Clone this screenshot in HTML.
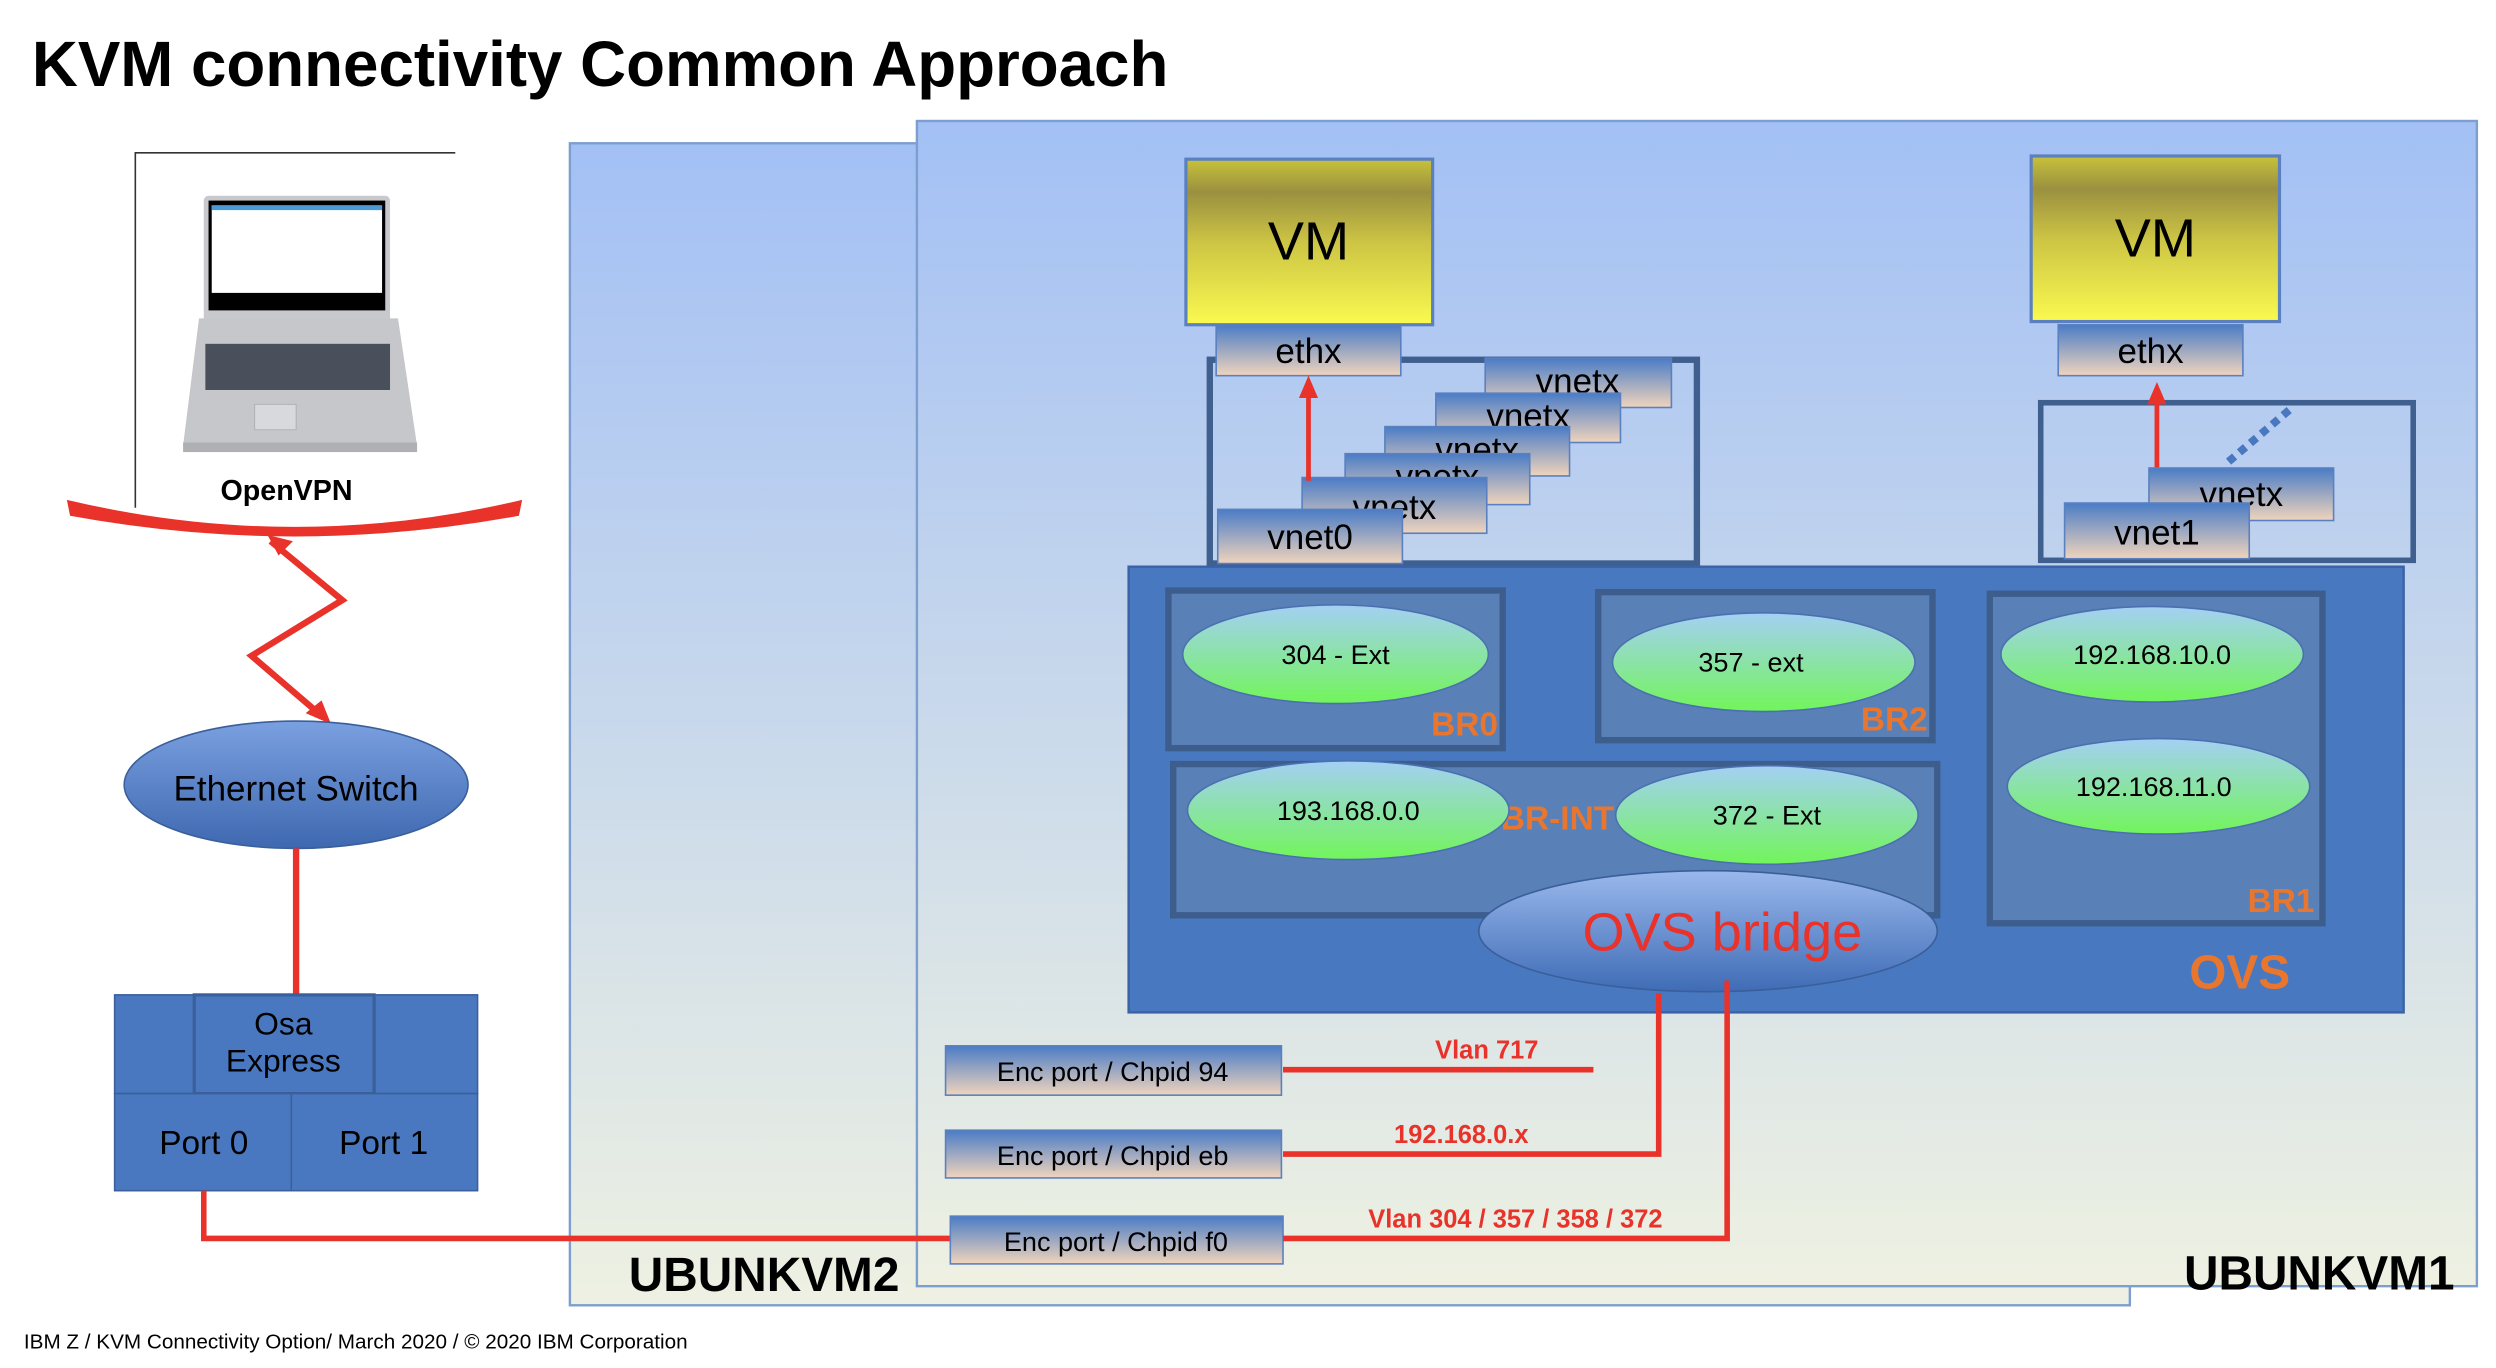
<!DOCTYPE html>
<html><head><meta charset="utf-8"><style>
html,body{margin:0;padding:0;background:#fff;}
svg{display:block;}
text{font-family:"Liberation Sans Narrow","Liberation Sans",sans-serif;}
.b{font-family:"Liberation Sans",sans-serif;font-weight:bold;}
</style></head><body>
<svg width="2496" height="1368" viewBox="0 0 1568 859.4" xmlns="http://www.w3.org/2000/svg">
<defs>
<linearGradient id="bg" x1="0" y1="0" x2="0" y2="1"><stop offset="0" stop-color="#a3c0f5"/><stop offset="1" stop-color="#eef1e2"/></linearGradient>
<linearGradient id="vm" x1="0" y1="0" x2="0" y2="1"><stop offset="0" stop-color="#c8c23a"/><stop offset="0.2" stop-color="#9a9040"/><stop offset="0.5" stop-color="#ccc444"/><stop offset="1" stop-color="#fafa50"/></linearGradient>
<linearGradient id="port" x1="0" y1="0" x2="0" y2="1"><stop offset="0" stop-color="#4a7cc6"/><stop offset="1" stop-color="#f0d4bc"/></linearGradient>
<linearGradient id="ell" x1="0" y1="0" x2="0" y2="1"><stop offset="0" stop-color="#a4d0f4"/><stop offset="1" stop-color="#72f55a"/></linearGradient>
<linearGradient id="ovs" x1="0" y1="0" x2="0" y2="1"><stop offset="0" stop-color="#9ab8ec"/><stop offset="1" stop-color="#3f6cb6"/></linearGradient>
<linearGradient id="sw" x1="0" y1="0" x2="0" y2="1"><stop offset="0" stop-color="#7aa0e0"/><stop offset="1" stop-color="#3e68b0"/></linearGradient>
</defs>
<rect width="1568" height="859.4" fill="#fff"/>
<text x="20" y="54" class="b" font-size="40">KVM connectivity Common Approach</text>

<rect x="358" y="90" width="980" height="730" fill="url(#bg)" stroke="#7d9fd0" stroke-width="1.5"/>
<rect x="576" y="76" width="980" height="732" fill="url(#bg)" stroke="#7d9fd0" stroke-width="1.5"/>

<path d="M85 319 V96 H286" fill="none" stroke="#333" stroke-width="1"/>
<rect x="128" y="123" width="117" height="136" rx="3" fill="#c8c9cc"/>
<rect x="131" y="126" width="111" height="69" fill="#000"/>
<rect x="133" y="129" width="107" height="55" fill="#fff"/>
<rect x="133" y="129" width="107" height="3" fill="#4a9ad8"/>
<path d="M125 200 H250 L262 280 H115 Z" fill="#c6c7ca"/>
<rect x="129" y="216" width="116" height="29" fill="#4a4f5c"/>
<rect x="160" y="254" width="26" height="16" fill="#d8d9dc" stroke="#aaa" stroke-width="0.5"/>
<rect x="115" y="278" width="147" height="6" fill="#aeb0b4"/>
<text x="180" y="314" class="b" font-size="18" text-anchor="middle">OpenVPN</text>
<path d="M42 314 Q185 348 328 314 L326 324 Q185 350 44 324 Z" fill="#e8322a"/>
<polyline points="170,340 215,377 158,412 200,448" fill="none" stroke="#e8322a" stroke-width="4"/>
<polygon points="208,455 192,448 202,440" fill="#e8322a"/>
<polygon points="168,336 184,340 175,349" fill="#e8322a"/>

<ellipse cx="186" cy="493" rx="108" ry="40" fill="url(#sw)" stroke="#3a5f9a" stroke-width="1"/>
<text x="186" y="503" font-size="22" text-anchor="middle" style="font-family:'Liberation Sans',sans-serif">Ethernet Switch</text>
<line x1="186" y1="533" x2="186" y2="625" stroke="#e8322a" stroke-width="4"/>

<rect x="72" y="625" width="228" height="62" fill="#4a78c0" stroke="#3a5f9a"/>
<rect x="122" y="625" width="113" height="62" fill="#4a78c0" stroke="#3a5f9a" stroke-width="2"/>
<text x="178" y="650" font-size="20" text-anchor="middle" style="font-family:'Liberation Sans',sans-serif">Osa</text>
<text x="178" y="673" font-size="20" text-anchor="middle" style="font-family:'Liberation Sans',sans-serif">Express</text>
<rect x="72" y="687" width="111" height="61" fill="#4a78c0" stroke="#3a5f9a"/>
<rect x="183" y="687" width="117" height="61" fill="#4a78c0" stroke="#3a5f9a"/>
<text x="128" y="725" font-size="21" text-anchor="middle" style="font-family:'Liberation Sans',sans-serif">Port 0</text>
<text x="241" y="725" font-size="21" text-anchor="middle" style="font-family:'Liberation Sans',sans-serif">Port 1</text>
<polyline points="128,748 128,778 597,778" fill="none" stroke="#e8322a" stroke-width="3.5"/>

<rect x="745" y="100" width="155" height="104" fill="url(#vm)" stroke="#5a80c0" stroke-width="2"/>
<text x="822" y="163" font-size="34" text-anchor="middle">VM</text>
<rect x="1276" y="98" width="156" height="104" fill="url(#vm)" stroke="#5a80c0" stroke-width="2"/>
<text x="1354" y="161" font-size="34" text-anchor="middle">VM</text>

<rect x="760" y="226" width="306" height="128" fill="none" stroke="#3f5f8f" stroke-width="4"/>
<rect x="1282" y="253" width="234" height="99" fill="none" stroke="#3f5f8f" stroke-width="3.5"/>

<g font-size="22" text-anchor="middle">
<rect x="764" y="204" width="116" height="32" fill="url(#port)" stroke="#5a80c0"/><text x="822" y="228">ethx</text>
<rect x="1293" y="204" width="116" height="32" fill="url(#port)" stroke="#5a80c0"/><text x="1351" y="228">ethx</text>
<rect x="933" y="225" width="117" height="31" fill="url(#port)" stroke="#5a80c0"/><text x="991" y="247">vnetx</text>
<rect x="902" y="247" width="116" height="31" fill="url(#port)" stroke="#5a80c0"/><text x="960" y="269">vnetx</text>
<rect x="870" y="268" width="116" height="31" fill="url(#port)" stroke="#5a80c0"/><text x="928" y="290">vnetx</text>
<rect x="845" y="285" width="116" height="32" fill="url(#port)" stroke="#5a80c0"/><text x="903" y="307">vnetx</text>
<rect x="818" y="300" width="116" height="35" fill="url(#port)" stroke="#5a80c0"/><text x="876" y="326">vnetx</text>
<line x1="822" y1="302" x2="822" y2="248" stroke="#e8322a" stroke-width="3"/>
<polygon points="822,236 816,250 828,250" fill="#e8322a"/>
<rect x="765" y="320" width="116" height="34" fill="url(#port)" stroke="#5a80c0"/><text x="823" y="345">vnet0</text>
<line x1="1355" y1="296" x2="1355" y2="252" stroke="#e8322a" stroke-width="3"/>
<polygon points="1355,240 1349,254 1361,254" fill="#e8322a"/>
<line x1="1400" y1="290" x2="1440" y2="256" stroke="#4a78c0" stroke-width="5" stroke-dasharray="5,4"/>
<rect x="1350" y="294" width="116" height="33" fill="url(#port)" stroke="#5a80c0"/><text x="1408" y="318">vnetx</text>
<rect x="1297" y="316" width="116" height="35" fill="url(#port)" stroke="#5a80c0"/><text x="1355" y="342">vnet1</text>
</g>

<rect x="709" y="356" width="801" height="280" fill="#4878c0" stroke="#3a62a6" stroke-width="1.5"/>
<g fill="#5a80b8" stroke="#3d5d8d" stroke-width="4">
<rect x="734" y="371" width="210" height="99"/>
<rect x="1004" y="372" width="210" height="93"/>
<rect x="1250" y="373" width="209" height="207"/>
<rect x="737" y="480" width="480" height="95"/>
</g>
<g fill="#e8762e" class="b" font-size="21" text-anchor="end">
<text x="941" y="462">BR0</text>
<text x="1211" y="459">BR2</text>
<text x="1454" y="573">BR1</text>
<text x="1014" y="521">BR-INT</text>
</g>
<g font-size="17" text-anchor="middle" style="font-family:'Liberation Sans',sans-serif">
<ellipse cx="839" cy="411" rx="96" ry="31" fill="url(#ell)" stroke="#4a70b0"/><text x="839" y="417">304 - Ext</text>
<ellipse cx="1108" cy="416" rx="95" ry="31" fill="url(#ell)" stroke="#4a70b0"/><text x="1100" y="422">357 - ext</text>
<ellipse cx="1352" cy="411" rx="95" ry="30" fill="url(#ell)" stroke="#4a70b0"/><text x="1352" y="417">192.168.10.0</text>
<ellipse cx="1356" cy="494" rx="95" ry="30" fill="url(#ell)" stroke="#4a70b0"/><text x="1353" y="500">192.168.11.0</text>
<ellipse cx="847" cy="509" rx="101" ry="31" fill="url(#ell)" stroke="#4a70b0"/><text x="847" y="515">193.168.0.0</text>
<ellipse cx="1110" cy="512" rx="95" ry="31" fill="url(#ell)" stroke="#4a70b0"/><text x="1110" y="518">372 - Ext</text>
</g>
<ellipse cx="1073" cy="585" rx="144" ry="38" fill="url(#ovs)" stroke="#3a5f9a"/>
<text x="1082" y="597" font-size="34" fill="#e8322a" text-anchor="middle" style="font-family:'Liberation Sans',sans-serif">OVS bridge</text>
<text x="1407" y="621" class="b" font-size="30" fill="#e8762e" text-anchor="middle">OVS</text>

<g font-size="17" text-anchor="middle" style="font-family:'Liberation Sans',sans-serif">
<rect x="594" y="657" width="211" height="31" fill="url(#port)" stroke="#5a80c0"/><text x="699" y="679">Enc port / Chpid 94</text>
<rect x="594" y="710" width="211" height="30" fill="url(#port)" stroke="#5a80c0"/><text x="699" y="732">Enc port / Chpid eb</text>
<rect x="597" y="764" width="209" height="30" fill="url(#port)" stroke="#5a80c0"/><text x="701" y="786">Enc port / Chpid f0</text>
</g>
<g stroke="#e8322a" stroke-width="3.5" fill="none">
<line x1="806" y1="672" x2="1001" y2="672"/>
<polyline points="806,725 1042,725 1042,624"/>
<polyline points="806,778 1085,778 1085,616"/>
</g>
<g fill="#e8322a" class="b" font-size="16" text-anchor="middle">
<text x="934" y="665">Vlan 717</text>
<text x="918" y="718">192.168.0.x</text>
<text x="952" y="771">Vlan 304 / 357 / 358 / 372</text>
</g>

<text x="395" y="811" class="b" font-size="30">UBUNKVM2</text>
<text x="1372" y="810" class="b" font-size="30">UBUNKVM1</text>
<text x="15" y="847" font-size="13" style="font-family:'Liberation Sans',sans-serif">IBM Z / KVM Connectivity Option/ March 2020 / © 2020 IBM Corporation</text>
</svg>
</body></html>
